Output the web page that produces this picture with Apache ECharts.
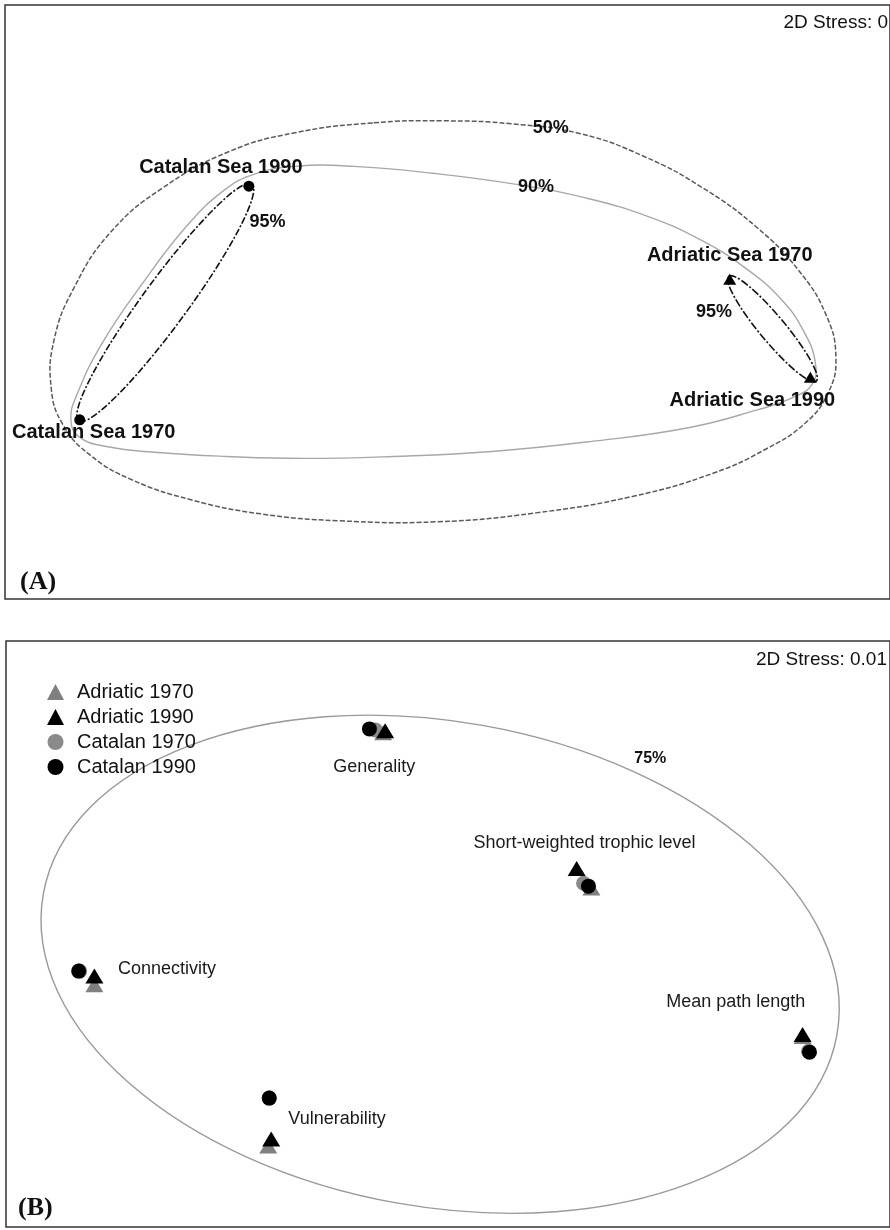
<!DOCTYPE html>
<html>
<head>
<meta charset="utf-8">
<script src="https://cdn.jsdelivr.net/npm/echarts@6/dist/echarts.min.js"></script>
<style>
  html, body { margin: 0; padding: 0; background: #fff; }
  #chart { width: 890px; height: 1230px; }
</style>
</head>
<body>
<div id="chart"></div>
<script>
// ---------- (A) MDS of the four food webs ----------
const seaNamesCatalan = ['Catalan Sea 1970', 'Catalan Sea 1990'];
const seaNamesAdriatic = ['Adriatic Sea 1970', 'Adriatic Sea 1990'];
const catalanSea = [[-3.74, -1.19], [-2.02, 1.17]];
const adriaticSea = [[2.87, 0.23], [3.69, -0.76]];

// similarity contours (closed outlines, clockwise)
const contour50 = [[-0.75, 1.81], [-0.05, 1.83], [0.65, 1.80], [1.35, 1.70], [2.00, 1.47], [2.60, 1.15],
  [3.15, 0.75], [3.57, 0.32], [3.85, -0.13], [3.95, -0.56], [3.87, -0.92], [3.63, -1.23], [3.23, -1.49],
  [2.70, -1.73], [1.90, -1.96], [0.90, -2.13], [-0.10, -2.22], [-1.10, -2.21], [-1.90, -2.14],
  [-2.60, -2.00], [-3.20, -1.80], [-3.63, -1.55], [-3.91, -1.24], [-4.03, -0.87], [-4.00, -0.38],
  [-3.80, 0.14], [-3.43, 0.70], [-2.90, 1.15], [-2.22, 1.52], [-1.55, 1.71]];
const contour90 = [[-1.55, 1.37], [-0.95, 1.37], [-0.15, 1.30], [0.75, 1.18], [1.45, 1.04], [2.05, 0.86],
  [2.57, 0.63], [3.02, 0.35], [3.40, 0.02], [3.63, -0.31], [3.74, -0.61], [3.71, -0.83], [3.50, -0.97],
  [3.15, -1.09], [2.45, -1.27], [1.45, -1.41], [0.45, -1.51], [-0.55, -1.56], [-1.45, -1.58],
  [-2.25, -1.56], [-2.95, -1.52], [-3.47, -1.46], [-3.75, -1.36], [-3.83, -1.19], [-3.77, -0.94],
  [-3.52, -0.43], [-3.10, 0.19], [-2.65, 0.77], [-2.27, 1.13], [-1.97, 1.29]];
// 95% groups: long-axis end points and half-width
const catalan95Axis = [[-3.75, -1.20], [-1.99, 1.19]];
const catalan95HalfWidth = 0.23;
const adriatic95Axis = [[2.86, 0.26], [3.75, -0.80]];
const adriatic95HalfWidth = 0.13;
const contourTextA = [['50%', 1.05, 1.76], ['90%', 0.90, 1.16], ['95%', -1.83, 0.81], ['95%', 2.71, -0.10]];
const stressA = '2D Stress: 0';

// ---------- (B) MDS of the network properties ----------
const properties = ['Generality', 'Short-weighted trophic level', 'Mean path length', 'Connectivity', 'Vulnerability'];
const adriatic1970 = [[-0.66, 2.06], [1.46, 0.47], [3.61, -1.05], [-3.60, -0.52], [-1.83, -2.17]];
const adriatic1990 = [[-0.64, 2.08], [1.31, 0.67], [3.61, -1.03], [-3.60, -0.43], [-1.80, -2.10]];
const catalan1970 = [[-0.74, 2.09], [1.38, 0.52], [3.67, -1.20], [-3.75, -0.38], [-1.82, -1.68]];
const catalan1990 = [[-0.80, 2.10], [1.43, 0.49], [3.68, -1.21], [-3.76, -0.38], [-1.82, -1.68]];
const propertyTextAt = [[-0.75, 1.71], [1.39, 0.93], [2.93, -0.70], [-2.86, -0.36], [-1.13, -1.89]];
const contour75Axis = [[-4.12, 0.41], [3.96, -1.03]];
const contour75HalfWidth = 2.47;
const contourTextB = [['75%', 2.06, 1.80]];
const stressB = '2D Stress: 0.01';
const legendNames = ['Adriatic 1970', 'Adriatic 1990', 'Catalan 1970', 'Catalan 1990'];

// ---------- drawing ----------
const SANS = '"Liberation Sans", Arial, Helvetica, sans-serif';
const SERIF = '"Liberation Serif", "Times New Roman", serif';

// closed smooth outline through the listed points
function outline(points, axis, style) {
  return {
    type: 'custom', xAxisIndex: axis, yAxisIndex: axis, silent: true, z: 1,
    data: [points[0]],
    renderItem: (params, api) => ({
      type: 'polygon',
      shape: { points: points.map(p => api.coord(p)), smooth: 0.45 },
      style: Object.assign({ fill: 'none' }, style)
    })
  };
}

// ellipse given by its long-axis end points and its half-width
function tiltedEllipse(axisEnds, halfWidth, axis, style) {
  return {
    type: 'custom', xAxisIndex: axis, yAxisIndex: axis, silent: true, z: 2,
    data: [axisEnds[0]],
    renderItem: (params, api) => {
      const p1 = api.coord(axisEnds[0]);
      const p2 = api.coord(axisEnds[1]);
      const dx = p2[0] - p1[0], dy = p2[1] - p1[1];
      return {
        type: 'ellipse',
        x: (p1[0] + p2[0]) / 2, y: (p1[1] + p2[1]) / 2,
        rotation: -Math.atan2(dy, dx),
        shape: { cx: 0, cy: 0, rx: Math.hypot(dx, dy) / 2, ry: api.size([halfWidth, 0])[0] },
        style: Object.assign({ fill: 'none' }, style)
      };
    }
  };
}

// free text anchored at data coordinates
function texts(items, axis, font) {
  return {
    type: 'scatter', xAxisIndex: axis, yAxisIndex: axis, silent: true, z: 6,
    symbolSize: 1, itemStyle: { color: 'rgba(0,0,0,0)', opacity: 1 },
    data: items.map(([t, x, y]) => ({ name: t, value: [x, y] })),
    label: Object.assign({ show: true, position: 'inside', align: 'center', verticalAlign: 'middle',
      formatter: '{b}', fontFamily: SANS, opacity: 1 }, font)
  };
}

// label offsets (px) of the site names around their points in (A)
const siteLabelOffset = {
  'Catalan Sea 1970': [14, 13], 'Catalan Sea 1990': [-28, -19],
  'Adriatic Sea 1970': [0, -24], 'Adriatic Sea 1990': [-58, 23]
};
const siteLabel = { show: true, position: 'inside', align: 'center', verticalAlign: 'middle',
  formatter: '{b}', fontFamily: SANS, fontSize: 20, fontWeight: 'bold', color: '#111', opacity: 1 };

function sitePoints(name, names, values, symbol, size) {
  return {
    type: 'scatter', name, xAxisIndex: 0, yAxisIndex: 0, z: 4, silent: true,
    symbol, symbolSize: size, itemStyle: { color: '#000', opacity: 1 },
    data: values.map((v, i) => ({ name: names[i], value: v,
      label: Object.assign({}, siteLabel, { offset: siteLabelOffset[names[i]] }) })),
    label: siteLabel
  };
}

function propertyPoints(name, values, symbol, color) {
  return {
    type: 'scatter', name, xAxisIndex: 1, yAxisIndex: 1, z: 4, silent: true,
    symbol, symbolSize: symbol === 'triangle' ? [18, 15] : 15,
    itemStyle: { color, opacity: 1 },
    data: values.map((v, i) => ({ name: properties[i], value: v }))
  };
}

const panelGrid = { show: true, borderColor: '#333', borderWidth: 1.5, backgroundColor: '#fff' };

const option = {
  backgroundColor: '#fff',
  animation: false,
  grid: [
    Object.assign({ left: 5, top: 5, width: 900, height: 594 }, panelGrid),
    Object.assign({ left: 6, top: 641, width: 900, height: 586 }, panelGrid)
  ],
  xAxis: [
    { gridIndex: 0, type: 'value', min: -4.5, max: 4.5, show: false },
    { gridIndex: 1, type: 'value', min: -4.5, max: 4.5, show: false }
  ],
  yAxis: [
    { gridIndex: 0, type: 'value', min: -3, max: 3, show: false },
    { gridIndex: 1, type: 'value', min: -3, max: 3, show: false }
  ],
  legend: {
    data: legendNames, orient: 'vertical', left: 42, top: 677,
    itemWidth: 17, itemHeight: 16, itemGap: 5, selectedMode: false,
    textStyle: { fontSize: 20, color: '#111', fontFamily: SANS, padding: [0, 0, 0, 8] }
  },
  graphic: [
    { type: 'text', right: 2, top: 13, style: { text: stressA, font: '19px ' + SANS, fill: '#111' } },
    { type: 'text', right: 3, top: 650, style: { text: stressB, font: '19px ' + SANS, fill: '#111' } },
    { type: 'text', left: 20, top: 569, style: { text: '(A)', font: 'bold 26px ' + SERIF, fill: '#111' } },
    { type: 'text', left: 18, top: 1195, style: { text: '(B)', font: 'bold 26px ' + SERIF, fill: '#111' } }
  ],
  series: [
    outline(contour50, 0, { stroke: '#5a5a5a', lineWidth: 1.5, lineDash: [5, 2] }),
    outline(contour90, 0, { stroke: '#a8a8a8', lineWidth: 1.4 }),
    tiltedEllipse(catalan95Axis, catalan95HalfWidth, 0, { stroke: '#111', lineWidth: 1.6, lineDash: [7, 2, 2, 2] }),
    tiltedEllipse(adriatic95Axis, adriatic95HalfWidth, 0, { stroke: '#111', lineWidth: 1.6, lineDash: [8, 2, 2, 2] }),
    sitePoints('Catalan Sea', seaNamesCatalan, catalanSea, 'circle', 11),
    sitePoints('Adriatic Sea', seaNamesAdriatic, adriaticSea, 'triangle', [13, 11]),
    texts(contourTextA, 0, { fontSize: 18, fontWeight: 'bold', color: '#111' }),

    tiltedEllipse(contour75Axis, contour75HalfWidth, 1, { stroke: '#999', lineWidth: 1.4 }),
    propertyPoints('Adriatic 1970', adriatic1970, 'triangle', '#808080'),
    propertyPoints('Catalan 1970', catalan1970, 'circle', '#8a8a8a'),
    propertyPoints('Adriatic 1990', adriatic1990, 'triangle', '#000'),
    propertyPoints('Catalan 1990', catalan1990, 'circle', '#000'),
    texts(properties.map((p, i) => [p, propertyTextAt[i][0], propertyTextAt[i][1]]), 1,
      { fontSize: 18, color: '#1a1a1a' }),
    texts(contourTextB, 1, { fontSize: 16, fontWeight: 'bold', color: '#111' })
  ]
};

const chart = echarts.init(document.getElementById('chart'), null, { renderer: 'canvas' });
chart.setOption(option);
</script>
</body>
</html>
